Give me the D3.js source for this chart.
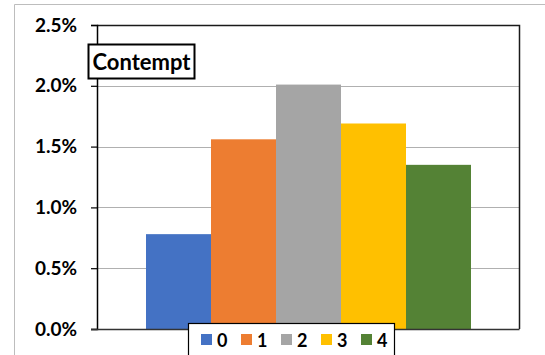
<!DOCTYPE html>
<html>
<head>
<meta charset="utf-8">
<script src="https://cdn.jsdelivr.net/npm/d3@7"></script>
<style>
  html, body { margin: 0; padding: 0; background: #fff; }
  svg { display: block; }
  text { font-family: Lato, "Open Sans", "Liberation Sans", sans-serif; font-weight: bold; fill: #000; }
</style>
</head>
<body>
<svg id="chart" width="545" height="355"></svg>
<script>
// Share of "Contempt" by level
const seriesNames = ["0", "1", "2", "3", "4"];
const seriesValues = [0.0078, 0.0156, 0.0201, 0.0169, 0.0135];
const seriesColors = ["#4472C4", "#ED7D31", "#A5A5A5", "#FFC000", "#548235"];
const yTicks = [0, 0.005, 0.010, 0.015, 0.020, 0.025];
const chartTitle = "Contempt";

const svg = d3.select("#chart");

// Outer chart frame
svg.append("path")
  .attr("d", "M14.5,360 V4.5 H560")
  .attr("fill", "none").attr("stroke", "#bdbdbd").attr("stroke-width", 1);

const plot = { left: 97, right: 519, top: 25, bottom: 329 };

const y = d3.scaleLinear().domain([0, 0.025]).range([plot.bottom, plot.top]);
const x = d3.scaleBand().domain(seriesNames).range([146, 471]).padding(0);

// Gridlines
svg.append("g").selectAll("line")
  .data(yTicks.filter(t => t > 0 && t < 0.025))
  .join("line")
  .attr("x1", plot.left).attr("x2", plot.right)
  .attr("y1", d => Math.round(y(d)) + 0.5).attr("y2", d => Math.round(y(d)) + 0.5)
  .attr("stroke", "#b0b0b0").attr("stroke-width", 1);

// Bars
svg.append("g").selectAll("rect")
  .data(seriesValues)
  .join("rect")
  .attr("x", (d, i) => x(seriesNames[i]))
  .attr("width", x.bandwidth())
  .attr("y", d => y(d))
  .attr("height", d => y(0) - y(d))
  .attr("fill", (d, i) => seriesColors[i]);

// Plot frame (top and right)
svg.append("path")
  .attr("d", `M${plot.left},${plot.top + 0.5} H${plot.right + 0.5} V${plot.bottom}`)
  .attr("fill", "none").attr("stroke", "#1a1a1a").attr("stroke-width", 1.5);

// Y axis
const yAxis = d3.axisLeft(y)
  .tickValues(yTicks)
  .tickFormat(d3.format(".1%"))
  .tickSize(6)
  .tickPadding(14);

const gy = svg.append("g")
  .attr("transform", `translate(${plot.left},0)`)
  .call(yAxis);
gy.select(".domain").attr("stroke", "#000").attr("stroke-width", 1.5);
gy.selectAll(".tick line").attr("stroke", "#000").attr("stroke-width", 1.2);
gy.selectAll(".tick text")
  .style("font-size", "19px")
  .style("font-family", "Lato, 'Open Sans', sans-serif")
  .style("font-weight", "bold")
  .attr("fill", "#000");

// Bottom axis line
svg.append("line")
  .attr("x1", plot.left - 6).attr("x2", plot.right + 0.5)
  .attr("y1", plot.bottom + 0.5).attr("y2", plot.bottom + 0.5)
  .attr("stroke", "#333").attr("stroke-width", 1.5);

// Title box
const tg = svg.append("g");
tg.append("rect")
  .attr("x", 88.5).attr("y", 44.5).attr("width", 106).attr("height", 34)
  .attr("fill", "#fff").attr("stroke", "#000").attr("stroke-width", 2);
tg.append("text")
  .attr("x", 141.5).attr("y", 70)
  .attr("text-anchor", "middle")
  .style("font-size", "22px")
  .text(chartTitle);

// Legend
const lg = svg.append("g");
lg.append("rect")
  .attr("x", 188.5).attr("y", 323.5).attr("width", 206).attr("height", 40)
  .attr("fill", "#fff").attr("stroke", "#000").attr("stroke-width", 1.2);
const item = lg.selectAll("g.item")
  .data(seriesNames)
  .join("g")
  .attr("class", "item")
  .attr("transform", (d, i) => `translate(${201 + i * 40},334)`);
item.append("rect")
  .attr("width", 11).attr("height", 11)
  .attr("fill", (d, i) => seriesColors[i]);
item.append("text")
  .attr("x", 16).attr("y", 12.5)
  .style("font-size", "18px")
  .text(d => d);
</script>
</body>
</html>
